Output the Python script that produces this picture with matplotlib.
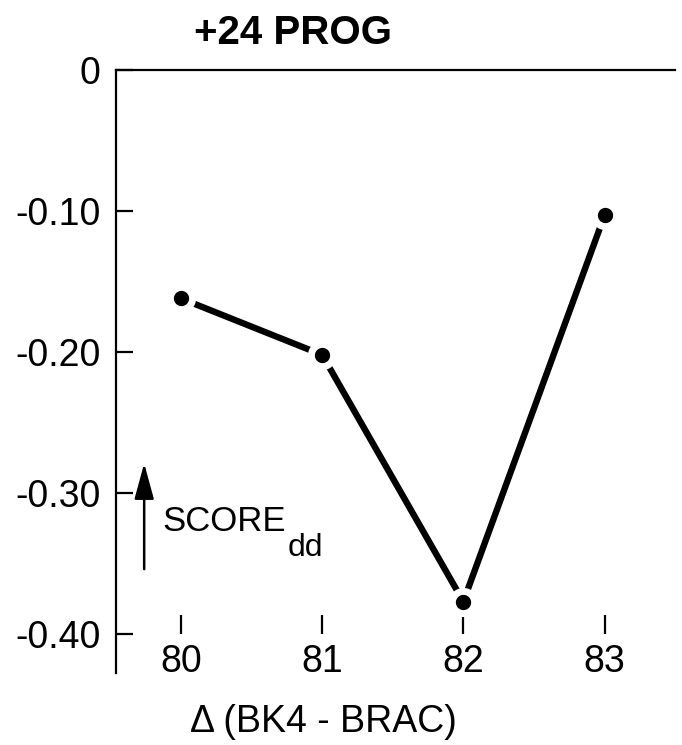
import matplotlib
matplotlib.use('Agg')
from matplotlib import pyplot as plt

plt.rcParams['font.family'] = ['Liberation Sans Narrow', 'Liberation Sans', 'DejaVu Sans']

# data
years = [80, 81, 82, 83]
score = [-0.162, -0.202, -0.377, -0.103]
yticks = [0, -0.10, -0.20, -0.30, -0.40]
ytick_labels = ['0', '-0.10', '-0.20', '-0.30', '-0.40']
title = '+24 PROG'
xlabel = '\u0394 (BK4 - BRAC)'

fig = plt.figure(figsize=(6.82, 7.45), dpi=100)
ax = fig.add_axes([0.170, 0.0966, 0.820, 0.8094])

ax.plot(years, score, color='black', lw=4.6, solid_capstyle='round', zorder=2)
ax.plot(years, score, 'o', color='black', ms=16, mec='white', mew=5, zorder=3)

ax.set_xlim(79.54, 83.5)
ax.set_ylim(-0.4277, 0)

# spines: left and top only, x ticks float at -0.40
ax.spines['right'].set_visible(False)
ax.spines['bottom'].set_position(('data', -0.40))
ax.spines['bottom'].set_visible(False)
for s in ['left', 'top']:
    ax.spines[s].set_linewidth(1.6)

ax.set_yticks(yticks)
ax.set_yticklabels(ytick_labels)
ax.set_xticks(years)
ax.set_xticklabels([str(y) for y in years])
ax.tick_params(axis='y', direction='in', length=12, width=1.6, pad=11, labelsize=27)
ax.tick_params(axis='x', direction='in', length=14, width=1.6, pad=7, labelsize=27)

# SCORE_dd with arrow
ax.annotate('', xy=(79.74, -0.279), xytext=(79.74, -0.354),
            arrowprops=dict(arrowstyle='-|>,head_length=1.1,head_width=0.3',
                            mutation_scale=20, lw=1.8, color='black',
                            shrinkA=0, shrinkB=0))
t = ax.text(79.87, -0.327, 'SCORE', fontsize=25, ha='left', va='baseline')
ax.annotate('dd', xy=(1, 0), xycoords=t, xytext=(1, -13), textcoords='offset points',
            fontsize=23, ha='left', va='baseline')

fig.text(293 / 682, 1 - 33 / 745, title, fontsize=29, fontweight='bold',
         ha='center', va='center')
fig.text(323 / 682, 1 - 722 / 745, xlabel, fontsize=27, ha='center', va='center')

plt.savefig('out.png', dpi=100)
